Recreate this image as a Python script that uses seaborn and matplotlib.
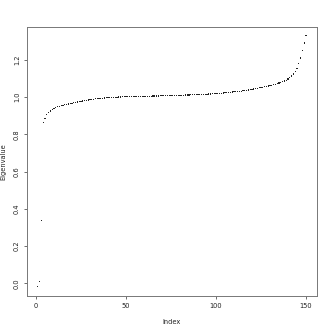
import matplotlib
matplotlib.use("Agg")
import matplotlib.pyplot as plt
import seaborn as sns
import pandas as pd

eigenvalues = [
    -0.015, 0.012, 0.337, 0.865, 0.886, 0.905, 0.915, 0.925, 0.932, 0.938,
    0.943, 0.947, 0.950, 0.953, 0.956, 0.958, 0.961, 0.963, 0.965, 0.967,
    0.969, 0.971, 0.973, 0.975, 0.977, 0.979, 0.981, 0.983, 0.984, 0.986,
    0.987, 0.988, 0.990, 0.991, 0.992, 0.993, 0.994, 0.995, 0.996, 0.997,
    0.997, 0.998, 0.998, 0.999, 0.999, 1.000, 1.000, 1.001, 1.001, 1.002,
    1.002, 1.002, 1.003, 1.003, 1.003, 1.003, 1.004, 1.004, 1.004, 1.004,
    1.005, 1.005, 1.005, 1.005, 1.006, 1.006, 1.006, 1.006, 1.007, 1.007,
    1.007, 1.007, 1.008, 1.008, 1.008, 1.008, 1.009, 1.009, 1.009, 1.010,
    1.010, 1.010, 1.011, 1.011, 1.011, 1.012, 1.012, 1.012, 1.013, 1.013,
    1.014, 1.014, 1.014, 1.015, 1.015, 1.016, 1.016, 1.017, 1.017, 1.018,
    1.019, 1.020, 1.021, 1.022, 1.023, 1.024, 1.025, 1.026, 1.027, 1.028,
    1.029, 1.030, 1.031, 1.032, 1.033, 1.035, 1.036, 1.038, 1.039, 1.041,
    1.043, 1.045, 1.047, 1.049, 1.051, 1.053, 1.055, 1.057, 1.059, 1.061,
    1.063, 1.066, 1.069, 1.072, 1.075, 1.078, 1.082, 1.086, 1.091, 1.097,
    1.104, 1.113, 1.124, 1.137, 1.155, 1.180, 1.210, 1.250, 1.290, 1.330,
]
index = list(range(1, len(eigenvalues) + 1))
x_ticks = [0, 50, 100, 150]
y_ticks = [0.0, 0.2, 0.4, 0.6, 0.8, 1.0, 1.2]
y_tick_labels = ["0.0", "0.2", "0.4", "0.6", "0.8", "1.0", "1.2"]

df = pd.DataFrame({"Index": index, "Eigenvalue": eigenvalues})

sns.set_style("white")
plt.rcParams["font.family"] = ["DejaVu Sans"]

fig = plt.figure(figsize=(3.3, 3.3), dpi=100)
ax = fig.add_axes([27 / 330, 34 / 330, 289.7 / 330, 269 / 330])

sns.scatterplot(data=df, x="Index", y="Eigenvalue", ax=ax, marker="s",
                s=0.7, color="#222222", edgecolor="none", linewidth=0)

ax.set_xlim(-4.96, 155.96)
ax.set_ylim(-0.068, 1.376)
ax.set_xticks(x_ticks)
ax.set_xticklabels([str(t) for t in x_ticks], fontsize=4.8, color="#222222")
ax.set_yticks(y_ticks)
ax.set_yticklabels(y_tick_labels, fontsize=4.8, rotation=90, va="center",
                   color="#222222")
ax.tick_params(axis="both", direction="out", length=2.5, width=0.6,
               color="#555555", pad=2.5, left=True, bottom=True)
for s in ax.spines.values():
    s.set_color("#777777")
    s.set_linewidth(0.7)
ax.set_xlabel("Index", fontsize=4.8, color="#222222")
ax.set_ylabel("Eigenvalue", fontsize=4.8, color="#222222")
ax.xaxis.set_label_coords(0.5, -0.085)
ax.yaxis.set_label_coords(-0.072, 0.5)

fig.savefig("out.png", dpi=100, facecolor="white")
